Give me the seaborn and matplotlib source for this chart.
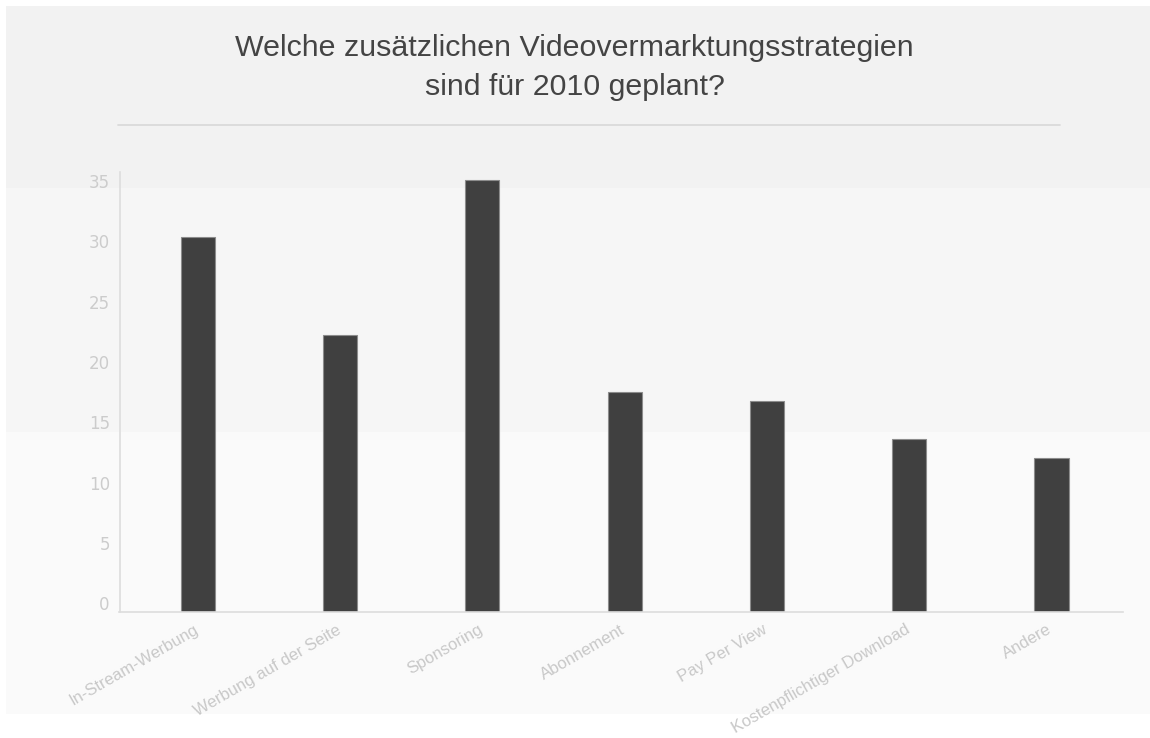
import matplotlib
matplotlib.use("Agg")
import matplotlib.pyplot as plt
import matplotlib.transforms as mtransforms
from matplotlib.patches import Rectangle
from matplotlib.lines import Line2D
import seaborn as sns
import pandas as pd

categories = ["In-Stream-Werbung", "Werbung auf der Seite", "Sponsoring", "Abonnement",
              "Pay Per View", "Kostenpflichtiger Download", "Andere"]
values = [31.1, 23.0, 35.8, 18.3, 17.5, 14.4, 12.8]
yticks = [0, 5, 10, 15, 20, 25, 30, 35]
title = "Welche zusätzlichen Videovermarktungsstrategien\nsind für 2010 geplant?"

sns.set_theme(style="white")
plt.rcParams['font.family'] = ['Liberation Sans', 'DejaVu Sans']

W, H = 1150, 738
fig = plt.figure(figsize=(W / 100, H / 100), dpi=100)
fig.patch.set_facecolor("white")

def fy(py):
    return 1 - py / H

# background bands (figure coords)
bands = [(6, 188, "#f2f2f2"), (188, 432, "#f6f6f6"), (432, 714, "#fafafa")]
for top, bot, col in bands:
    fig.patches.append(Rectangle((6 / W, fy(bot)), (W - 6) / W, (bot - top) / H,
                                 transform=fig.transFigure, facecolor=col,
                                 edgecolor="none", zorder=-10))

# separator line below title
fig.lines.append(Line2D([118 / W, 1060 / W], [fy(125), fy(125)], transform=fig.transFigure,
                        color="#dadada", lw=1.3))

fig.text(0.4996, fy(67.5), title, ha="center", va="center", fontsize=21.9,
         color="#444444", linespacing=1.5, family=["Liberation Sans", "DejaVu Sans"])

left, right = 119.5, 1122.6
top, bottom = 172, 612.3
ax = fig.add_axes([left / W, fy(bottom), (right - left) / W, (bottom - top) / H])
ax.patch.set_alpha(0)

df = pd.DataFrame({"cat": categories, "val": values})
sns.barplot(data=df, x="cat", y="val", color="#404040", width=0.24, saturation=1,
            edgecolor="#8c8c8c", linewidth=0.8, ax=ax)

ax.set_xlim(-0.551, 6.5)
ax.set_ylim(0, 36.5)
ax.set_yticks(yticks)
ax.set_xlabel("")
ax.set_ylabel("")
for s in ["top", "right"]:
    ax.spines[s].set_visible(False)
for s in ["left", "bottom"]:
    ax.spines[s].set_color("#dddddd")
    ax.spines[s].set_linewidth(1.2)

ax.tick_params(axis="y", length=0, pad=7, labelsize=12, labelcolor="#cccccc")
ax.tick_params(axis="x", length=0, pad=7, labelsize=12, labelcolor="#c8c8c8")
for lab in ax.get_yticklabels():
    lab.set_family(["DejaVu Sans"])
    lab.set_transform(lab.get_transform() + mtransforms.ScaledTranslation(0, 0.09, fig.dpi_scale_trans))
ax.set_xticks(range(len(categories)))
ax.set_xticklabels(categories, rotation=30, ha="right", va="top", rotation_mode="anchor")
for lab in ax.get_xticklabels():
    lab.set_transform(lab.get_transform() + mtransforms.ScaledTranslation(-0.045, 0, fig.dpi_scale_trans))

fig.savefig("out.png", dpi=100)
